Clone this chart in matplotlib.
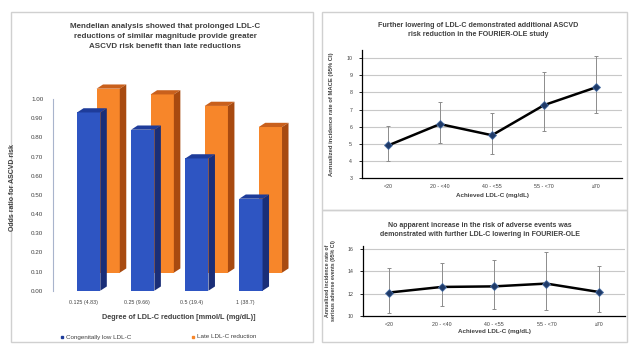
import matplotlib
matplotlib.use("Agg")
import matplotlib.pyplot as plt
import numpy as np
from matplotlib.patches import Polygon, Rectangle

plt.rcParams["font.family"] = ["Liberation Sans", "DejaVu Sans"]

# left panel: Mendelian analysis
dose_labels = ["0.125 (4.83)", "0.25 (9.66)", "0.5 (19.4)", "1 (38.7)"]
congenital = [0.93, 0.84, 0.69, 0.48]
late = [0.96, 0.93, 0.87, 0.76]

# right panels: FOURIER-OLE
ldl_groups = ["<20", "20 - <40", "40 - <55", "55 - <70", "\u226570"]
mace = [4.9, 6.15, 5.5, 7.26, 8.3]
mace_lo = [3.97, 5.04, 4.4, 5.72, 6.8]
mace_hi = [6.05, 7.47, 6.8, 9.18, 10.14]
sae = [12.1, 12.6, 12.65, 12.9, 12.15]
sae_lo = [10.3, 10.9, 10.6, 10.55, 10.4]
sae_hi = [14.3, 14.75, 15.0, 15.7, 14.45]

W, H = 629, 344
fig = plt.figure(figsize=(W / 100, H / 100), dpi=100)
fig.patch.set_facecolor("white")


def px_axes(left, top, right, bottom, **kw):
    return fig.add_axes([left / W, 1 - bottom / H, (right - left) / W, (bottom - top) / H], **kw)


# panel frames
frame = fig.add_axes([0, 0, 1, 1])
frame.set_xlim(0, W)
frame.set_ylim(H, 0)
frame.axis("off")
for x0, y0, x1, y1 in [(11, 12, 313, 342), (322, 12, 627, 210), (322, 210, 627, 342)]:
    frame.add_patch(Rectangle((x0, y0), x1 - x0, y1 - y0, fill=False, ec="#d0d0d0", lw=1))


def bar3d(ax, x, base, height, width, dx, dy, front, top, side, z):
    y1 = base + height
    ax.add_patch(Polygon([(x, base), (x + width, base), (x + width, y1), (x, y1)],
                         closed=True, fc=front, ec="none", zorder=z))
    ax.add_patch(Polygon([(x, y1), (x + width, y1), (x + width + dx, y1 + dy), (x + dx, y1 + dy)],
                         closed=True, fc=top, ec="none", zorder=z))
    ax.add_patch(Polygon([(x + width, base), (x + width + dx, base + dy), (x + width + dx, y1 + dy),
                          (x + width, y1)], closed=True, fc=side, ec="none", zorder=z))


# left bar chart
ax1 = px_axes(53, 83.7, 305, 290.7)
ax1.set_xlim(-0.66, 4.0)
ax1.set_ylim(0, 1.08)
bw, dx, dy = 0.43, 0.12, 0.022
for i, (c, l) in enumerate(zip(congenital, late)):
    bar3d(ax1, i + 0.36 - bw / 2, 0.094, l, bw, dx, dy, "#F7862A", "#C9601C", "#A84A10", 2)
    bar3d(ax1, i - bw / 2, 0.0, c, bw, dx, dy, "#2E55C2", "#1E3C9A", "#1A2E78", 3)
ax1.set_yticks(np.arange(0, 1.01, 0.1))
ax1.set_yticklabels([f"{v:.2f}" for v in np.arange(0, 1.01, 0.1)], fontsize=4.5, color="#404040")
ax1.set_xticks(np.arange(4) - 0.1)
ax1.set_xticklabels(dose_labels, fontsize=3.8, color="#404040")
ax1.tick_params(length=0, pad=7)
ax1.tick_params(axis="x", pad=7)
for s in ["top", "right", "bottom"]:
    ax1.spines[s].set_visible(False)
ax1.spines["left"].set_color("#a8b4cc")
ax1.spines["left"].set_linewidth(0.8)
ax1.spines["left"].set_bounds(0, 1.0)
ax1.patch.set_alpha(0)
ax1.set_ylabel("Odds ratio for ASCVD risk", fontsize=5, fontweight="bold", color="#404040", labelpad=11)
ax1.set_xlabel("Degree of LDL-C reduction [mmol/L (mg/dL)]", fontsize=5.2, fontweight="bold",
               color="#404040", labelpad=6)
frame.text(165, 37, "Mendelian analysis showed that prolonged LDL-C\nreductions of similar magnitude provide greater\n"
           "ASCVD risk benefit than late reductions", ha="center", va="center", fontsize=5.8,
           fontweight="bold", color="#404040", linespacing=1.6)
frame.plot([62], [337], "s", ms=2, color="#1E3C9A")
frame.text(66, 337, "Congenitally low LDL-C", fontsize=4.5, va="center", color="#404040")
frame.plot([193], [337], "s", ms=2, color="#F7862A")
frame.text(197, 337, "Late LDL-C reduction", fontsize=4.5, va="center", color="#404040")


def line_panel(ax, vals, lo, hi, ylim, yticks):
    x = np.arange(len(vals))
    vals = np.array(vals)
    err = [vals - np.array(lo), np.array(hi) - vals]
    for t in yticks[1:]:
        ax.axhline(t, color="#c8c8c8", lw=0.8, zorder=0)
    ax.errorbar(x, vals, yerr=err, fmt="none", ecolor="#8c8c8c", elinewidth=0.7, capsize=1.5,
                capthick=0.7, zorder=2)
    ax.plot(x, vals, color="black", lw=1.8, zorder=3)
    ax.plot(x, vals, "D", ms=4.5, mfc="#1F3A68", mec="#4a6fa5", mew=0.6, zorder=4)
    ax.set_xlim(-0.5, len(vals) - 0.5)
    ax.set_ylim(*ylim)
    ax.set_yticks(yticks)
    ax.set_yticklabels([str(t) for t in yticks], fontsize=3.8, color="#404040")
    ax.set_xticks(x)
    ax.set_xticklabels(ldl_groups, fontsize=3.8, color="#404040")
    ax.tick_params(axis="y", length=2, width=0.6, pad=5)
    ax.tick_params(axis="x", length=0, pad=4)
    for s in ["top", "right"]:
        ax.spines[s].set_visible(False)
    ax.spines["left"].set_linewidth(0.9)
    ax.spines["bottom"].set_linewidth(0.9)
    ax.patch.set_alpha(0)


ax2 = px_axes(362, 49.7, 622, 178)
line_panel(ax2, mace, mace_lo, mace_hi, (3, 10.5), list(range(3, 11)))
ax2.set_xlabel("Achieved LDL-C (mg/dL)", fontsize=4.5, fontweight="bold", color="#404040", labelpad=3)
ax2.set_ylabel("Annualized incidence rate of MACE (95% CI)", fontsize=4.2, fontweight="bold",
               color="#404040", labelpad=9)
frame.text(478, 30, "Further lowering of LDL-C demonstrated additional ASCVD\nrisk reduction in the FOURIER-OLE study",
           ha="center", va="center", fontsize=5.1, fontweight="bold", color="#404040", linespacing=1.55)

ax3 = px_axes(363, 245.6, 625, 316)
line_panel(ax3, sae, sae_lo, sae_hi, (10, 16.3), [10, 12, 14, 16])
ax3.set_xlabel("Achieved LDL-C (mg/dL)", fontsize=4.5, fontweight="bold", color="#404040", labelpad=2)
ax3.set_ylabel("Annualized incidence rate of\nserious adverse events (95% CI)", fontsize=3.8,
               fontweight="bold", color="#404040", labelpad=8, linespacing=1.3)
frame.text(480, 230, "No apparent increase in the risk of adverse events was\ndemonstrated with further LDL-C lowering in FOURIER-OLE",
           ha="center", va="center", fontsize=5.0, fontweight="bold", color="#404040", linespacing=1.55)

fig.savefig("out.png", dpi=100, facecolor="white")
